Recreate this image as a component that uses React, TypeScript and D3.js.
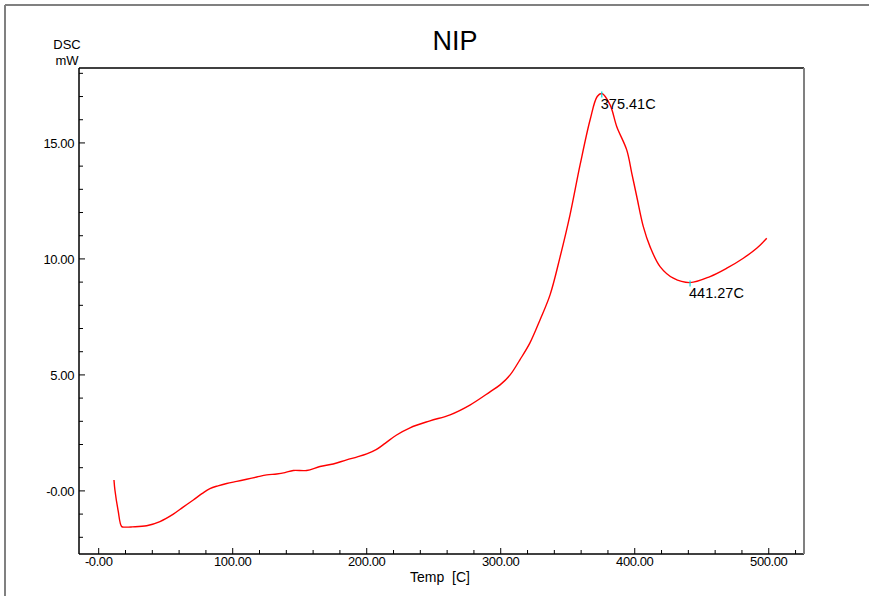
import React from 'react';
import * as d3 from 'd3';

const width = 869;
const height = 596;

// DSC trace (temperature in C, heat flow in mW)
const temps = [11.4, 12.1, 14.5, 17.2, 20, 25, 35.8, 45.7, 55.7, 63, 70.6, 77, 83, 89, 95.5, 103, 110.4, 118, 125.4, 132.8, 139, 145.2, 155.2, 165.1, 175, 185, 193, 200, 207, 213.7, 222, 232.3, 247.2, 262.2, 277, 292, 299.5, 307, 314.3, 321.8, 329.3, 336.8, 344.3, 351.7, 359.2, 366.7, 372, 375.41, 381.6, 386.6, 394, 397.8, 401.5, 406.4, 411.4, 418.9, 428.8, 441.27, 456.2, 468.7, 481, 491, 498.5];
const dsc = [0.47, 0.04, -0.85, -1.54, -1.56, -1.55, -1.5, -1.32, -1.0, -0.7, -0.39, -0.12, 0.1, 0.22, 0.32, 0.41, 0.5, 0.6, 0.69, 0.73, 0.79, 0.88, 0.88, 1.05, 1.16, 1.34, 1.47, 1.6, 1.78, 2.05, 2.4, 2.72, 3.02, 3.28, 3.7, 4.27, 4.57, 5.0, 5.65, 6.38, 7.37, 8.45, 10.09, 11.9, 14.05, 16.0, 17.0, 17.13, 16.64, 15.7, 14.7, 13.69, 12.69, 11.39, 10.53, 9.67, 9.17, 8.98, 9.24, 9.6, 10.03, 10.46, 10.89];

const xMajor = [0, 100, 200, 300, 400, 500];
const xLabels = ['-0.00', '100.00', '200.00', '300.00', '400.00', '500.00'];
const yMajor = [0, 5, 10, 15];
const yLabels = ['-0.00', '5.00', '10.00', '15.00'];

const peaks = [375.41, 441.27];
const peakLabels = ['375.41C', '441.27C'];

const left = 79;
const right = 804;
const top = 68;
const bottom = 554;

const font = '"Liberation Sans", Arial, sans-serif';

export default function App() {
  const x = d3.scaleLinear().domain([-14.7, 526.3]).range([left, right]);
  const y = d3.scaleLinear().domain([-2.72, 18.23]).range([bottom, top]);

  const pts: [number, number][] = temps.map((t, i) => [t, dsc[i]]);
  const line = d3.line<[number, number]>()
    .x((d) => x(d[0]))
    .y((d) => y(d[1]))
    .curve(d3.curveCatmullRom.alpha(0.5));

  const xMinor = d3.range(0, 521, 20).filter((v) => v % 100 !== 0);
  const yMinor = d3.range(-2, 19, 1).filter((v) => v % 5 !== 0);

  return (
    <svg width={width} height={height} style={{ position: 'absolute', left: 0, top: 0, background: '#fff' }}>
      {/* outer frame */}
      <line x1={5} y1={5} x2={width} y2={5} stroke="#808080" strokeWidth={2} />
      <line x1={5} y1={5} x2={5} y2={height} stroke="#808080" strokeWidth={2} />

      <text x={455} y={50} textAnchor="middle" fontFamily={font} fontSize={27}>NIP</text>
      <text x={67} y={49} textAnchor="middle" fontFamily={font} fontSize={13}>DSC</text>
      <text x={67} y={65} textAnchor="middle" fontFamily={font} fontSize={13}>mW</text>

      {/* plot frame */}
      <line x1={left} y1={top} x2={right} y2={top} stroke="#000" strokeWidth={1.5} />
      <line x1={left} y1={top} x2={left} y2={bottom} stroke="#000" strokeWidth={1.5} />
      <line x1={left} y1={bottom} x2={right} y2={bottom} stroke="#000" strokeWidth={1.5} />
      <line x1={right} y1={top} x2={right} y2={bottom} stroke="#808080" strokeWidth={2} />

      {xMajor.map((v, i) => (
        <g key={'xm' + v}>
          <line x1={x(v)} x2={x(v)} y1={bottom} y2={bottom - 6} stroke="#000" />
          <text x={x(v)} y={566} textAnchor="middle" fontFamily={font} fontSize={13} letterSpacing={-0.4}>{xLabels[i]}</text>
        </g>
      ))}
      {xMinor.map((v) => (
        <line key={'xn' + v} x1={x(v)} x2={x(v)} y1={bottom} y2={bottom - 4} stroke="#000" />
      ))}
      {yMajor.map((v, i) => (
        <g key={'ym' + v}>
          <line x1={left} x2={left + 6} y1={y(v)} y2={y(v)} stroke="#000" />
          <text x={74} y={y(v) + 5} textAnchor="end" fontFamily={font} fontSize={13} letterSpacing={-0.4}>{yLabels[i]}</text>
        </g>
      ))}
      {yMinor.map((v) => (
        <line key={'yn' + v} x1={left} x2={left + 4} y1={y(v)} y2={y(v)} stroke="#000" />
      ))}

      <text x={440} y={582} textAnchor="middle" fontFamily={font} fontSize={14} style={{ whiteSpace: 'pre' }}>{'Temp  [C]'}</text>

      <path d={line(pts) || ''} fill="none" stroke="#ff0000" strokeWidth={1.4} />

      {peaks.map((p, i) => {
        const v = dsc[temps.indexOf(p)];
        return (
          <g key={'pk' + p}>
            <line x1={x(p)} x2={x(p)} y1={y(v) - 2} y2={y(v) + 4} stroke="#00e0e0" strokeWidth={1.2} />
            <text x={x(p) - 1} y={y(v) + 15} fontFamily={font} fontSize={14.5}>{peakLabels[i]}</text>
          </g>
        );
      })}
    </svg>
  );
}
